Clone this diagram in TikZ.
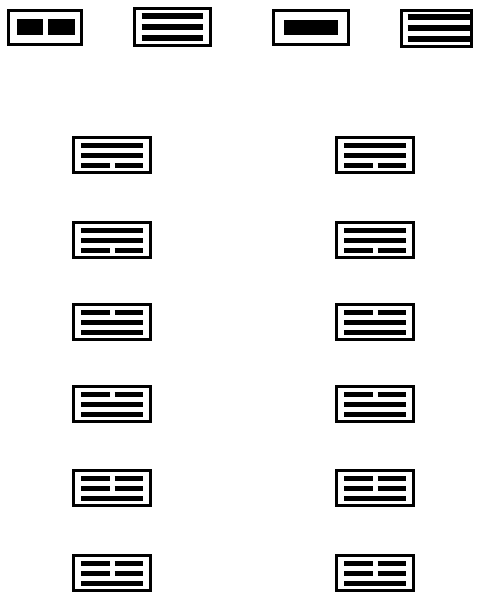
\documentclass[tikz,border=0pt]{standalone}
\usetikzlibrary{calc}
\tikzset{
  gua/.style={rectangle, draw=black, line width=3pt, fill=white,
              minimum width=77pt, minimum height=35pt, inner sep=0pt},
  bar/.style={line width=5pt, black},
}
% one line of a figure: node name, offset from centre
\newcommand{\yang}[2]{\draw[bar] ($(#1.west)+(9,#2)$) -- ($(#1.east)+(-9,#2)$);}
\newcommand{\yin}[2]{\draw[bar] ($(#1.west)+(9,#2)$) -- ($(#1.center)+(-2.5,#2)$);
  \draw[bar] ($(#1.center)+(2.5,#2)$) -- ($(#1.east)+(-9,#2)$);}
\begin{document}
\begin{tikzpicture}[x=1pt, y=-1pt]
\useasboundingbox (0,0) rectangle (479,597);

% top row
\node[gua, minimum width=73pt, minimum height=34pt] (yinbox) at (45,27) {};
\node[gua, minimum width=76pt, minimum height=37pt] (kun) at (172,27) {};
\node[gua, minimum width=75pt, minimum height=34pt] (yangbox) at (311,27) {};
\node[gua, minimum width=70pt, minimum height=36pt] (qian) at (436,28) {};

\draw[bar, line width=16pt] ($(yinbox.west)+(10,0)$) -- ($(yinbox.center)+(-2.5,0)$);
\draw[bar, line width=16pt] ($(yinbox.center)+(3,0)$) -- ($(yinbox.east)+(-8,0)$);
\draw[bar, line width=15pt] ($(yangbox.west)+(12,0)$) -- ($(yangbox.east)+(-12,0)$);
\foreach \o in {-11,0,11} {
  \draw[bar, line width=6pt] ($(kun.west)+(9,\o)$) -- ($(kun.east)+(-9,\o)$);
  \draw[bar, line width=6pt] ($(qian.west)+(8,\o)$) -- ($(qian.east)+(-3,\o)$);
}

% two columns
\foreach \r/\y/\a/\b/\c in {1/155/\yang/\yang/\yin, 2/240/\yang/\yang/\yin,
    3/322/\yin/\yang/\yang, 4/404/\yin/\yang/\yang,
    5/488/\yin/\yin/\yang, 6/573/\yin/\yin/\yang} {
  \node[gua] (l\r) at (112,\y) {};
  \node[gua] (r\r) at (375,\y) {};
  \a{l\r}{-10} \b{l\r}{0} \c{l\r}{10}
  \a{r\r}{-10} \b{r\r}{0} \c{r\r}{10}
}
\end{tikzpicture}
\end{document}
